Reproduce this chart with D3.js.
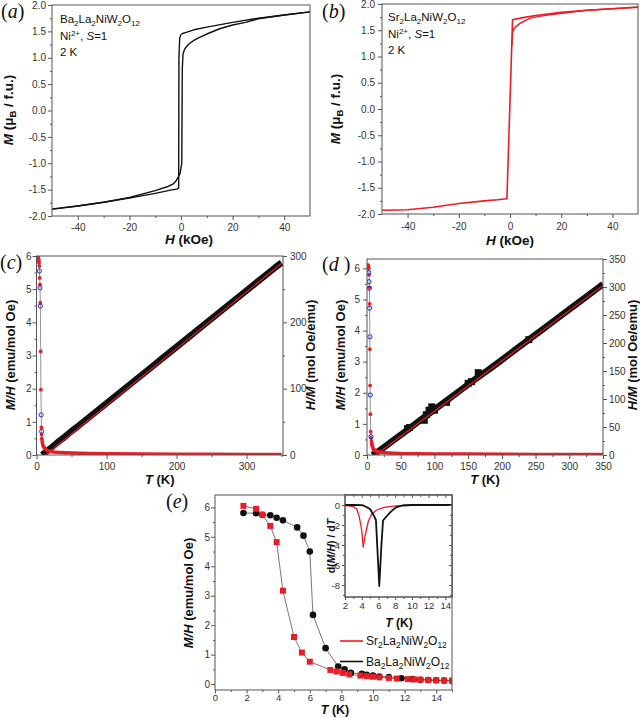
<!DOCTYPE html>
<html><head><meta charset="utf-8">
<script src="https://cdn.jsdelivr.net/npm/d3@7"></script>
<style>body{margin:0;background:#fff}svg{display:block}</style>
</head><body>
<svg id="chart" width="640" height="718"></svg>
<script>
// ---------- DATA ----------
// (a) Ba2La2NiW2O12 M(H) loop, 2 K
const aDownH = [50, 40, 30, 20, 10, 5, 2, 0.6, 0, -0.5, -0.8, -0.9, -1.5, -3, -5, -10, -20, -30, -40, -50];
const aDownM = [1.87, 1.81, 1.75, 1.67, 1.58, 1.53, 1.48, 1.46, 1.44, 1.38, 1.0, -1.47, -1.49, -1.5, -1.52, -1.57, -1.66, -1.74, -1.81, -1.87];
const aUpH = [-50, -40, -30, -20, -10, -5, -3, -2, -1.2, -0.4, 0.3, 0.5, 0.8, 1.5, 3, 5, 7, 10, 15, 20, 25, 30, 40, 50];
const aUpM = [-1.87, -1.81, -1.74, -1.65, -1.52, -1.44, -1.39, -1.34, -1.27, -1.2, -1.0, 0.8, 1.08, 1.17, 1.26, 1.33, 1.38, 1.45, 1.55, 1.62, 1.67, 1.74, 1.81, 1.87];
// (b) Sr2La2NiW2O12 M(H) loop, 2 K
const bMainH = [-50, -40, -30, -20, -10, -5, -1.2, 1.0, 5, 10, 20, 30, 40, 50];
const bMainM = [-1.93, -1.92, -1.87, -1.80, -1.75, -1.73, -1.71, 1.70, 1.74, 1.78, 1.84, 1.88, 1.91, 1.94];
const bRoundH = [0.7, 1.05, 2, 3.9, 7.8, 12, 19.4, 30, 40, 50];
const bRoundM = [1.2, 1.47, 1.56, 1.63, 1.73, 1.77, 1.82, 1.88, 1.91, 1.94];
// (c) Ba compound: M/H and H/M vs T
const cT_red = [1.8, 2.0, 2.3, 2.6, 3.0, 3.3, 3.6, 4.0, 4.5, 5.0, 5.5, 6.0, 6.3, 7.0, 7.3, 7.6, 8.0, 8.5, 9.0, 10];
const cMH_red = [6.0, 5.98, 5.96, 5.93, 5.9, 5.86, 5.8, 5.7, 5.34, 5.14, 4.59, 3.12, 1.97, 0.83, 0.62, 0.5, 0.42, 0.36, 0.3, 0.25];
const cT_blue = [4.0, 5.0, 5.5, 6.6, 7.4];
const cMH_blue = [5.55, 5.04, 4.49, 1.21, 0.71];
const cT_tail = [10, 12, 15, 20, 25, 30, 40, 50, 75, 100, 150, 200, 250, 300, 350];
const cMH_tail = [0.25, 0.19, 0.14, 0.11, 0.09, 0.08, 0.07, 0.06, 0.045, 0.04, 0.03, 0.025, 0.02, 0.018, 0.016];
const cT_hm = [8, 20, 30, 40, 50, 60, 80, 100, 120, 140, 160, 180, 200, 220, 240, 260, 280, 300, 320, 340, 350];
const cHM = [0, 10, 19, 27, 36, 44, 61, 78, 95, 112, 129, 146, 163, 180, 197, 214, 231, 248, 265, 282, 290];
const cFitT = [13, 350];
const cFitHM = [0, 289];
// (d) Sr compound
const dT_red = [1.8, 2.2, 2.6, 3.0, 3.5, 3.9, 4.3, 4.6, 5.0, 5.5, 6.0, 6.5, 7.0, 7.5, 8, 9, 10];
const dMH_red = [6.1, 6.05, 6.0, 5.79, 5.39, 4.86, 3.4, 2.23, 1.31, 0.75, 0.55, 0.45, 0.38, 0.33, 0.28, 0.22, 0.18];
const dT_blue = [2.6, 3.0, 3.5, 3.9, 4.3, 4.8, 6.0];
const dMH_blue = [5.86, 5.57, 5.36, 4.72, 3.80, 1.93, 0.59];
const dT_tail = [10, 12, 15, 20, 25, 30, 40, 50, 75, 100, 150, 200, 250, 300, 350];
const dMH_tail = [0.18, 0.14, 0.11, 0.09, 0.08, 0.07, 0.06, 0.05, 0.04, 0.035, 0.03, 0.025, 0.02, 0.018, 0.016];
const dT_hm = [8, 20, 30, 40, 50, 60, 80, 100, 120, 140, 160, 180, 200, 220, 240, 260, 280, 300, 320, 340, 350];
const dHM = [0, 9, 18, 27, 36, 45, 63, 81, 99, 117, 135, 152, 170, 188, 206, 224, 242, 260, 278, 296, 305];
const dSqT = [60, 63, 85, 88, 92, 96, 100, 118, 150, 155, 165, 240];
const dSqHM = [47, 49, 62, 72, 80, 86, 80, 94, 128, 131, 147, 206];
const dFitT = [13, 350];
const dFitHM = [0, 303];
// (e) low-T M/H
const eSrT = [1.8, 2.6, 3.0, 3.5, 3.9, 4.3, 5.0, 5.5, 6.0, 7.3, 7.7, 8.1, 8.5, 9.2, 9.6, 10.0, 10.4, 11.0, 11.5, 12.2, 12.6, 13.0, 13.5, 14.0, 14.5, 15.0];
const eSrMH = [6.05, 5.95, 5.75, 5.37, 4.82, 3.17, 1.6, 1.07, 0.76, 0.48, 0.43, 0.38, 0.33, 0.29, 0.27, 0.25, 0.23, 0.21, 0.19, 0.17, 0.16, 0.15, 0.14, 0.13, 0.12, 0.12];
const eBaT = [1.8, 2.6, 3.0, 3.5, 3.9, 4.3, 5.2, 5.6, 6.0, 6.2, 7.0, 7.8, 8.2, 8.6, 9.3, 9.6, 10.0, 10.4, 11.0, 11.8, 12.5, 13.0, 13.5, 14.0, 14.5, 15.0];
const eBaMH = [5.81, 5.80, 5.75, 5.73, 5.65, 5.56, 5.32, 5.04, 4.50, 2.35, 1.22, 0.60, 0.50, 0.38, 0.35, 0.32, 0.29, 0.26, 0.24, 0.20, 0.17, 0.15, 0.14, 0.13, 0.12, 0.11];
// (e) inset d(M/H)/dT
const inSrT = [2.0, 2.5, 3.0, 3.4, 3.7, 4.0, 4.18, 4.4, 4.8, 5.2, 5.8, 6.6, 7.3, 8.1, 9, 10, 11, 12, 13, 14, 14.8];
const inSrV = [-0.05, -0.08, -0.15, -0.4, -1.15, -2.5, -4.2, -3.1, -1.6, -0.9, -0.5, -0.26, -0.16, -0.08, -0.03, 0, 0, 0, 0, 0, 0];
const inBaT = [2, 3, 4, 4.2, 5.0, 5.5, 5.7, 6.1, 6.35, 6.55, 6.95, 7.5, 8.1, 8.9, 10, 11, 12, 13, 14, 14.8];
const inBaV = [0, 0, -0.02, -0.05, -0.4, -1.15, -1.5, -8.1, -4.1, -1.55, -1.15, -0.66, -0.23, -0.05, 0, 0, 0, 0, 0, 0];
// ticks
const hTicks = [-40, -20, 0, 20, 40];
const hMinor = [-30, -10, 10, 30];
const mTicks = [-2, -1.5, -1, -0.5, 0, 0.5, 1, 1.5, 2];
const mMinor = [-1.75, -1.25, -0.75, -0.25, 0.25, 0.75, 1.25, 1.75];

// ---------- HELPERS ----------
const FONT = '"Liberation Sans", Arial, Helvetica, sans-serif';
const SERIF = '"Liberation Serif", "Times New Roman", serif';
const RED = '#ec1c24', BLUE = '#1f2fd0', AX = '#555', TXT = '#333';
const svg = d3.select('#chart').attr('font-family', FONT);
const zip = (a, b) => a.map((v, i) => [v, b[i]]);
const fmt1 = v => v.toFixed(1);
const fmt0 = v => String(v);

function ax(gen, scale, major, minor, fmt, tx, ty, o = {}) {
  const fs = o.fs || 10, len = o.len ?? 4, mlen = o.mlen ?? 2, pad = o.pad ?? 2, sgn = o.inward ? -1 : 1;
  const a = svg.append('g').attr('transform', `translate(${tx},${ty})`)
    .call(gen(scale).tickValues(major).tickSizeInner(sgn * len).tickSizeOuter(0).tickPadding(pad).tickFormat(fmt || (() => '')));
  a.select('.domain').remove();
  a.selectAll('line').attr('stroke', AX);
  a.selectAll('text').attr('font-size', fs).attr('fill', TXT).attr('font-family', FONT);
  if (minor) {
    const m = svg.append('g').attr('transform', `translate(${tx},${ty})`)
      .call(gen(scale).tickValues(minor).tickSizeInner(sgn * mlen).tickSizeOuter(0).tickFormat(() => ''));
    m.select('.domain').remove();
    m.selectAll('line').attr('stroke', AX);
  }
}
function frame(x0, y0, x1, y1, fill) {
  svg.append('rect').attr('x', x0).attr('y', y0).attr('width', x1 - x0).attr('height', y1 - y0)
    .attr('fill', fill || 'none').attr('stroke', AX).attr('stroke-width', 1);
}
let clipN = 0;
function clip(x0, y0, x1, y1) {
  const id = 'clip' + (clipN++);
  svg.append('clipPath').attr('id', id).append('rect').attr('x', x0).attr('y', y0).attr('width', x1 - x0).attr('height', y1 - y0);
  return svg.append('g').attr('clip-path', `url(#${id})`);
}
function rich(x, y, rot, parts, fs, o = {}) {
  const t = svg.append('text').attr('transform', `translate(${x},${y})` + (rot ? ` rotate(${rot})` : ''))
    .attr('text-anchor', o.anchor || 'middle').attr('font-size', fs).attr('font-weight', o.weight || 'bold')
    .attr('fill', o.fill || '#111').attr('font-family', FONT);
  let shift = 0;
  parts.forEach(([s, opt = '']) => {
    const ts = t.append('tspan').text(s);
    let target = 0;
    if (opt.includes('sub')) { ts.attr('font-size', fs * 0.7); target = fs * 0.25; }
    if (opt.includes('sup')) { ts.attr('font-size', fs * 0.7); target = -fs * 0.35; }
    if (opt.includes('i')) ts.attr('font-style', 'italic');
    if (target - shift !== 0) ts.attr('dy', target - shift);
    shift = target;
  });
  return t;
}
function chem(s) { return s.match(/[A-Za-z]+|\d+/g).map(p => /\d/.test(p) ? [p, 'sub'] : [p, '']); }
function letter(x, y, ch, spaced) {
  const t = svg.append('text').attr('x', x).attr('y', y).attr('font-family', SERIF).attr('font-size', 20).attr('fill', '#111');
  t.append('tspan').text('(');
  t.append('tspan').attr('font-style', 'italic').text(ch);
  t.append('tspan').text(spaced ? ' )' : ')');
}
function path(g, xs, ys, X, Y, stroke, w, extra = {}) {
  const p = g.append('path').attr('d', d3.line().x(d => xs(d[0])).y(d => ys(d[1]))(zip(X, Y)))
    .attr('fill', 'none').attr('stroke', stroke).attr('stroke-width', w).attr('stroke-linejoin', 'round');
  Object.entries(extra).forEach(([k, v]) => p.attr(k, v));
  return p;
}

// ---------- PANEL (a) ----------
{
  const X = d3.scaleLinear([-50, 50], [52, 310]), Y = d3.scaleLinear([-2, 2], [216, 5]);
  const g = clip(52, 5, 310, 216);
  path(g, X, Y, aUpH, aUpM, '#111', 1.4);
  path(g, X, Y, aDownH, aDownM, '#111', 1.4);
  frame(52, 5, 310, 216);
  ax(d3.axisBottom, X, hTicks, hMinor, fmt0, 0, 216, { pad: 4 });
  ax(d3.axisLeft, Y, mTicks, mMinor, fmt1, 52, 0, { pad: 2 });
  rich(189, 244, 0, [['H', 'i'], [' (kOe)']], 13.5);
  rich(13, 110, -90, [['M', 'i'], [' (\u03bc'], ['B', 'sub'], [' / f.u.)']], 13.5);
  letter(1, 18, 'a');
  rich(60, 23, 0, chem('Ba2La2NiW2O12'), 11.5, { anchor: 'start', weight: 'normal' });
  rich(60, 40, 0, [['Ni'], ['2+', 'sup'], [', '], ['S', 'i'], ['=1']], 11.5, { anchor: 'start', weight: 'normal' });
  rich(60, 56, 0, [['2 K']], 11.5, { anchor: 'start', weight: 'normal' });
}
// ---------- PANEL (b) ----------
{
  const X = d3.scaleLinear([-50, 50], [382, 638]), Y = d3.scaleLinear([-2, 2], [214, 4]);
  const g = clip(382, 4, 638, 214);
  path(g, X, Y, bRoundH, bRoundM, RED, 1.4);
  path(g, X, Y, bMainH, bMainM, RED, 1.6);
  frame(382, 4, 638, 214);
  ax(d3.axisBottom, X, hTicks, hMinor, fmt0, 0, 214, { pad: 5 });
  ax(d3.axisLeft, Y, mTicks, mMinor, fmt1, 382, 0, { pad: 3 });
  rich(510, 245, 0, [['H', 'i'], [' (kOe)']], 13.5);
  rich(340, 109, -90, [['M', 'i'], [' (\u03bc'], ['B', 'sub'], [' / f.u.)']], 13.5);
  letter(322, 18, 'b');
  rich(388, 21, 0, chem('Sr2La2NiW2O12'), 11.5, { anchor: 'start', weight: 'normal' });
  rich(388, 38, 0, [['Ni'], ['2+', 'sup'], [', '], ['S', 'i'], ['=1']], 11.5, { anchor: 'start', weight: 'normal' });
  rich(388, 54, 0, [['2 K']], 11.5, { anchor: 'start', weight: 'normal' });
}
// ---------- PANEL (c)/(d) ----------
function tPanel(o) {
  const X = d3.scaleLinear([0, o.xmax], [o.x0, o.x1]);
  const YL = d3.scaleLinear([0, o.lmax], [455, o.y0]);
  const YR = d3.scaleLinear([0, o.rmax], [455, o.y0]);
  const g = clip(o.x0, o.y0, o.x1, 455);
  path(g, X, YR, o.hmT, o.hm, '#111', 6.5, { 'stroke-linecap': 'butt' });
  if (o.sqT) g.selectAll(null).data(zip(o.sqT, o.sqHM)).join('rect')
    .attr('x', d => X(d[0]) - 3.5).attr('y', d => YR(d[1]) - 3.5).attr('width', 7).attr('height', 7).attr('fill', '#111');
  path(g, X, YR, o.fitT, o.fitHM, RED, 1.1);
  path(g, X, YL, o.tailT, o.tail, RED, 3.5);
  path(g, X, YL, o.redT.concat([10]), o.red.concat([o.tail[0]]), '#777', 0.8);
  g.selectAll(null).data(zip(o.redT, o.red)).join('circle')
    .attr('cx', d => X(d[0])).attr('cy', d => YL(d[1])).attr('r', 1.9).attr('fill', RED);
  g.selectAll(null).data(zip(o.blueT, o.blue)).join('circle')
    .attr('cx', d => X(d[0])).attr('cy', d => YL(d[1])).attr('r', 2.1).attr('fill', 'none').attr('stroke', BLUE).attr('stroke-width', 1);
  frame(o.x0, o.y0, o.x1, 455);
  ax(d3.axisBottom, X, o.xt, o.xm, fmt0, 0, 455, { pad: 4 });
  ax(d3.axisLeft, YL, [0, 1, 2, 3, 4, 5, 6], [0.5, 1.5, 2.5, 3.5, 4.5, 5.5], fmt0, o.x0, 0, { pad: o.lpad });
  ax(d3.axisRight, YR, o.rt, o.rm, fmt0, o.x1, 0, { pad: o.rpad });
  rich((o.x0 + o.x1) / 2, 484, 0, [['T', 'i'], [' (K)']], 13);
  rich(o.ltx, 355, -90, [['M/H', 'i'], [' (emu/mol Oe)']], 13);
  rich(o.rtx, 355, -90, [['H/M', 'i'], [' (mol Oe/emu)']], 13);
}
tPanel({ x0: 36.5, x1: 283, y0: 256, xmax: 352, lmax: 6, rmax: 300,
  hmT: cT_hm, hm: cHM, fitT: cFitT, fitHM: cFitHM, tailT: cT_tail, tail: cMH_tail,
  redT: cT_red, red: cMH_red, blueT: cT_blue, blue: cMH_blue,
  xt: [0, 100, 200, 300], xm: [50, 150, 250, 350], rt: [0, 100, 200, 300], rm: [50, 150, 250],
  lpad: 1, rpad: 3, ltx: 15, rtx: 315 });
letter(0, 269, 'c');
tPanel({ x0: 367, x1: 603, y0: 259, xmax: 350, lmax: 6.3, rmax: 350,
  hmT: dT_hm, hm: dHM, sqT: dSqT, sqHM: dSqHM, fitT: dFitT, fitHM: dFitHM, tailT: dT_tail, tail: dMH_tail,
  redT: dT_red, red: dMH_red, blueT: dT_blue, blue: dMH_blue,
  xt: d3.range(0, 351, 50), xm: d3.range(25, 350, 50), rt: d3.range(0, 351, 50), rm: d3.range(25, 350, 50),
  lpad: 3, rpad: 2, ltx: 345, rtx: 637 });
letter(322, 271, 'd', true);

// ---------- PANEL (e) ----------
{
  const X = d3.scaleLinear([0, 15], [215, 452]), Y = d3.scaleLinear([-0.2, 6.42], [690, 495]);
  const g = clip(215, 495, 452, 690);
  path(g, X, Y, eBaT, eBaMH, '#666', 0.9);
  path(g, X, Y, eSrT, eSrMH, '#666', 0.9);
  g.selectAll(null).data(zip(eBaT, eBaMH)).join('circle')
    .attr('cx', d => X(d[0])).attr('cy', d => Y(d[1])).attr('r', 3.3).attr('fill', '#111');
  g.selectAll(null).data(zip(eSrT, eSrMH)).join('rect')
    .attr('x', d => X(d[0]) - 3).attr('y', d => Y(d[1]) - 3).attr('width', 6).attr('height', 6).attr('fill', RED);
  frame(215, 495, 452, 690);
  ax(d3.axisBottom, X, d3.range(0, 15, 2), d3.range(1, 16, 2), fmt0, 0, 690, { pad: 0.5, fs: 9.5, len: 3.5 });
  ax(d3.axisLeft, Y, [0, 1, 2, 3, 4, 5, 6], [0.5, 1.5, 2.5, 3.5, 4.5, 5.5], fmt0, 215, 0, { pad: 1 });
  rich(335, 714, 0, [['T', 'i'], [' (K)']], 12.5);
  rich(193, 593, -90, [['M/H', 'i'], [' (emu/mol Oe)']], 13);
  letter(166, 508, 'e');

  // inset
  const IX = d3.scaleLinear([2, 14.8], [345, 452]), IY = d3.scaleLinear([-9.2, 1], [597, 495]);
  frame(345, 495, 452, 597, '#fff');
  const gi = clip(345, 495, 452, 597);
  path(gi, IX, IY, inSrT, inSrV, RED, 1.3);
  path(gi, IX, IY, inBaT, inBaV, '#111', 1.8);
  ax(d3.axisBottom, IX, d3.range(2, 15, 2), d3.range(3, 14, 2), fmt0, 0, 597, { pad: 2, len: 3, fs: 9.5 });
  ax(d3.axisLeft, IY, [0, -2, -4, -6, -8], [-1, -3, -5, -7, -9], v => (v < 0 ? '-' + Math.abs(v) : '0'), 345, 0, { pad: 2, len: 3, fs: 9.5 });
  ax(d3.axisTop, IX, d3.range(2, 15, 2), d3.range(3, 14, 2), null, 0, 495, { inward: true, len: 3 });
  ax(d3.axisRight, IY, [0, -2, -4, -6, -8], [-1, -3, -5, -7, -9], null, 452, 0, { inward: true, len: 3 });
  svg.append('rect').attr('x', 345).attr('y', 495).attr('width', 107).attr('height', 102).attr('fill', 'none').attr('stroke', AX);
  rich(399, 627, 0, [['T', 'i'], [' (K)']], 12);
  rich(335, 546, -90, [['d('], ['M/H', 'i'], [') / d'], ['T', 'i']], 10.5);

  // legend
  svg.append('line').attr('x1', 340).attr('x2', 363).attr('y1', 641).attr('y2', 641).attr('stroke', RED).attr('stroke-width', 1.6);
  svg.append('line').attr('x1', 340).attr('x2', 363).attr('y1', 661.5).attr('y2', 661.5).attr('stroke', '#111').attr('stroke-width', 1.6);
  rich(366, 645, 0, chem('Sr2La2NiW2O12'), 12, { anchor: 'start', weight: 'normal' });
  rich(366, 665.5, 0, chem('Ba2La2NiW2O12'), 12, { anchor: 'start', weight: 'normal' });
}
</script>
</body></html>
